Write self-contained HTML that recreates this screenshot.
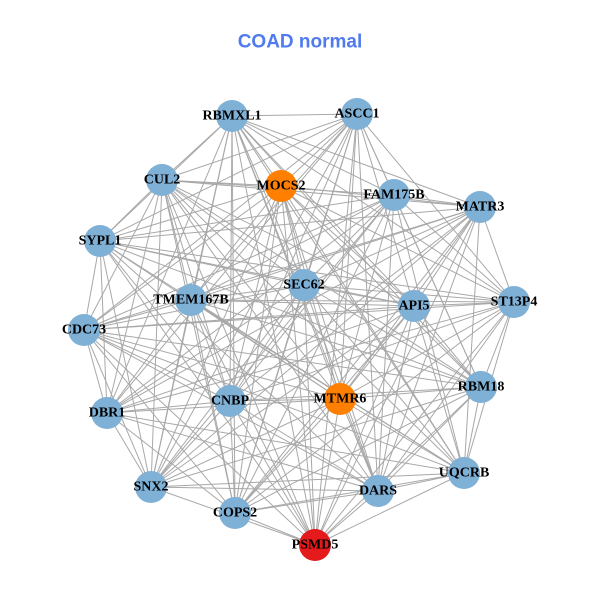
<!DOCTYPE html>
<html><head><meta charset="utf-8">
<style>
html,body{margin:0;padding:0;background:#fff;}
svg{display:block;}
.t{font-family:"Liberation Serif",serif;font-weight:bold;font-size:14px;fill:#000;text-anchor:middle;dominant-baseline:central;}
</style></head>
<body>
<svg id="g" width="600" height="600" xmlns="http://www.w3.org/2000/svg">
<rect width="600" height="600" fill="#fff"/>
<text x="300" y="42" text-anchor="middle" dominant-baseline="central" font-family="Liberation Sans, sans-serif" font-weight="bold" font-size="19" fill="#4f7bef">COAD normal</text>
<g id="edges" stroke="#a8a8a8" stroke-width="1"></g>
<g id="nodes"></g>
<g id="labels">
<text class="t" x="232" y="116">RBMXL1</text>
<text class="t" x="357" y="114">ASCC1</text>
<text class="t" x="162" y="180">CUL2</text>
<text class="t" x="281" y="186">MOCS2</text>
<text class="t" x="394" y="195">FAM175B</text>
<text class="t" x="480" y="207">MATR3</text>
<text class="t" x="100" y="241">SYPL1</text>
<text class="t" x="304" y="285">SEC62</text>
<text class="t" x="191" y="300">TMEM167B</text>
<text class="t" x="414" y="306">API5</text>
<text class="t" x="514" y="302">ST13P4</text>
<text class="t" x="84" y="330">CDC73</text>
<text class="t" x="230" y="401">CNBP</text>
<text class="t" x="340" y="399">MTMR6</text>
<text class="t" x="481" y="387">RBM18</text>
<text class="t" x="107" y="413">DBR1</text>
<text class="t" x="464" y="473">UQCRB</text>
<text class="t" x="151" y="487">SNX2</text>
<text class="t" x="378" y="491">DARS</text>
<text class="t" x="235" y="513">COPS2</text>
<text class="t" x="315" y="545">PSMD5</text>
</g>
</svg>
<script>
var N=[[232,116,0],[357,114,0],[162,180,0],[281,186,1],[394,195,0],[480,207,0],[100,241,0],[304,285,0],[191,300,0],[414,306,0],[514,302,0],[84,330,0],[230,401,0],[340,399,1],[481,387,0],[107,413,0],[464,473,0],[151,487,0],[378,491,0],[235,513,0],[315,545,2]];
var ns="http://www.w3.org/2000/svg",E=document.getElementById("edges"),G=document.getElementById("nodes");
for(var i=0;i<N.length;i++)for(var j=i+1;j<N.length;j++){
 if((i*7+j*3)%11==0)continue;
 var l=document.createElementNS(ns,"line");
 l.setAttribute("x1",N[i][0]);l.setAttribute("y1",N[i][1]);l.setAttribute("x2",N[j][0]);l.setAttribute("y2",N[j][1]);E.appendChild(l);}
var C=["#7fb0d6","#ff8000","#e41a1c"];
N.forEach(function(n){var c=document.createElementNS(ns,"circle");c.setAttribute("cx",n[0]);c.setAttribute("cy",n[1]);c.setAttribute("r",16);c.setAttribute("fill",C[n[2]]);G.appendChild(c);});
</script>
</body></html>
